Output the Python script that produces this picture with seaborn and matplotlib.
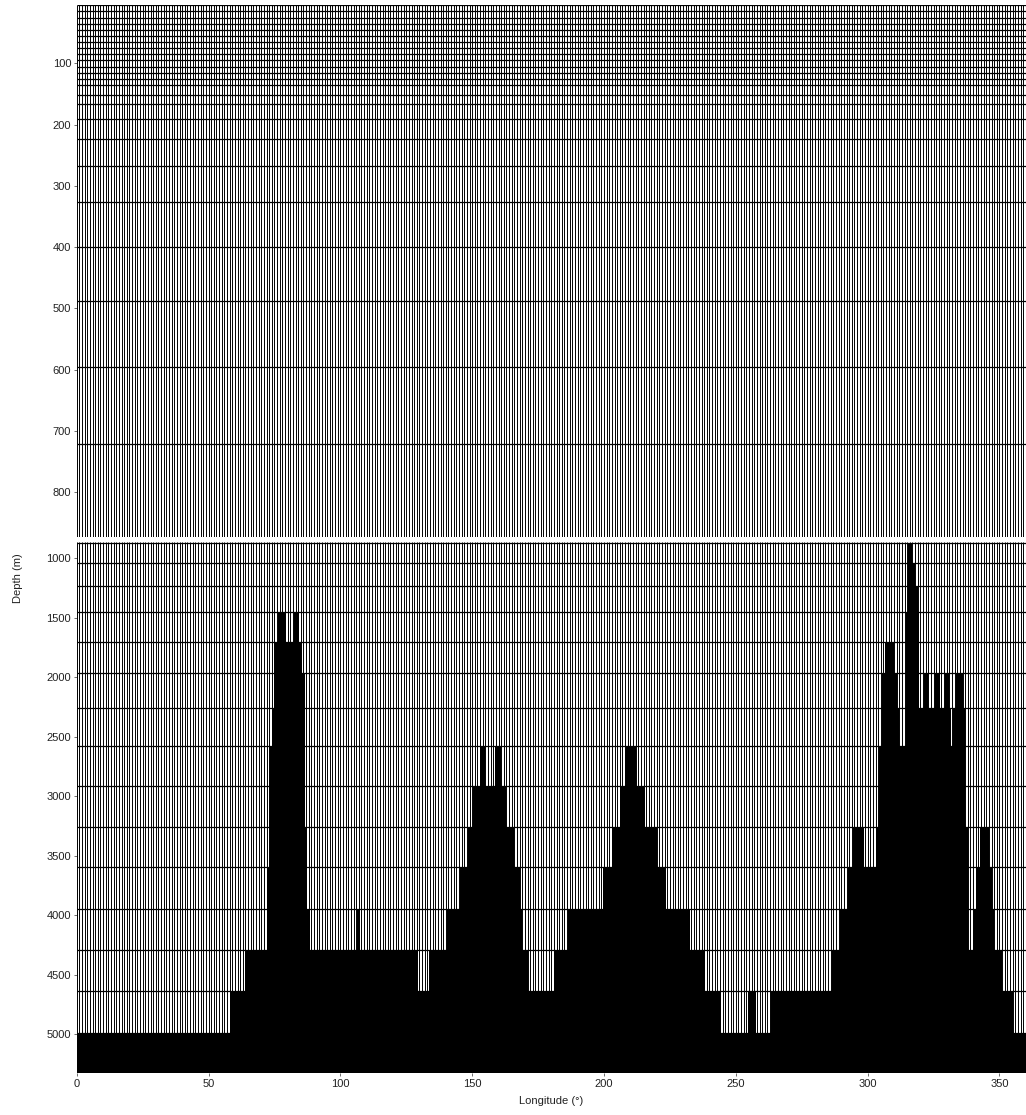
import numpy as np
import matplotlib
matplotlib.use("Agg")
import matplotlib.pyplot as plt
import seaborn as sns

# ---------------- data ----------------
# model level depths (m) drawn as horizontal grid lines
level_depths = [5, 15, 25, 35, 45, 55, 65, 75, 85, 95, 105, 115, 125, 136, 151, 166,
                190, 224, 268, 326, 399, 488, 596, 722, 873, 1042, 1233, 1454, 1701,
                1967, 2261, 2578, 2912, 3262, 3598, 3945, 4295, 4641, 4989, 5330]
# longitude grid lines (deg)
grid_lons = list(range(0, 361))

# bathymetry: step segments (edges in degrees) and bottom depth of each segment
bathy_edges = [0, 58, 64, 72, 73, 74, 75, 76.5, 79.5, 82.5, 84.5, 85.5, 86.5, 87.5, 88.5,
               106.5, 107.5, 129.5, 133.5, 140.5, 145.5, 148.5, 150.5, 153, 155, 158.5,
               161, 163, 166, 168, 169, 171, 181, 186.5, 199.5, 203, 206, 208, 212,
               215.5, 220, 223.5, 232.5, 238.5, 244.5, 254.5, 257.5, 263.5, 286.5,
               289.5, 292.5, 294.5, 298.5, 303, 304.5, 305.5, 306.5, 310, 311, 312,
               314.5, 315.5, 317, 318, 319, 319.5, 321.5, 323, 325.5, 327.5, 329.5,
               331, 331.5, 332.5, 333.5, 336, 337, 338, 340, 341, 342.5, 346, 347,
               348, 351, 355, 360]
bathy_depth = [4989, 4641, 4295, 3598, 2578, 2261, 1701, 1454, 1701, 1454, 1701, 1967,
               3262, 3945, 4295, 3945, 4295, 4641, 4295, 3945, 3598, 3262, 2912, 2578,
               2912, 2578, 2912, 3262, 3598, 3945, 4295, 4641, 4295, 3945, 3598, 3262,
               2912, 2578, 2912, 3262, 3598, 3945, 4295, 4641, 4989, 4641, 4989, 4641,
               4295, 3945, 3598, 3262, 3598, 3262, 2578, 1967, 1701, 1967, 2261, 2578,
               1454, 873, 1042, 1233, 1454, 2261, 1967, 2261, 1967, 2261, 1967, 2261,
               2578, 2261, 1967, 2261, 3262, 4295, 3945, 3598, 3262, 3598, 3945, 4295,
               4641, 4989]
assert len(bathy_edges) == len(bathy_depth) + 1

x_ticks = [0, 50, 100, 150, 200, 250, 300, 350]
top_yticks = [100, 200, 300, 400, 500, 600, 700, 800]
bot_yticks = [1000, 1500, 2000, 2500, 3000, 3500, 4000, 4500, 5000]
split_depth = 873
max_depth = 5330
min_depth = 5

# ---------------- plotting ----------------
sns.set_theme(style="white")
plt.rcParams['font.family'] = ['Liberation Sans', 'DejaVu Sans']

W, H = 1026, 1115
fig = plt.figure(figsize=(W / 100, H / 100), dpi=100)
left = 76.7 / W
width = (1025.8 - 76.7) / W
ax_top = fig.add_axes([left, 1 - 536.7 / H, width, (536.7 - 5.3) / H])
ax_bot = fig.add_axes([left, 1 - 1073.3 / H, width, (1073.3 - 542.3) / H])

starts = np.array(bathy_edges[:-1])
widths = np.diff(bathy_edges)
depths = np.array(bathy_depth)

for ax, (y0, y1) in ((ax_top, (split_depth, min_depth)), (ax_bot, (max_depth, 866))):
    ax.set_xlim(0, 360)
    ax.set_ylim(y0, y1)
    lo, hi = min(y0, y1), max(y0, y1)
    ax.vlines(grid_lons, lo, hi, colors='black', linewidth=0.7, zorder=1)
    hl = [d for d in level_depths if lo - 1 <= d <= hi + 1 and not (ax is ax_top and d >= split_depth)]
    ax.hlines(hl, 0, 360, colors='black', linewidth=0.9, zorder=1)
    ax.bar(starts, max_depth - depths, bottom=depths, width=widths, align='edge',
           color='black', linewidth=0, zorder=2)
    for s in ax.spines.values():
        s.set_visible(False)
    ax.tick_params(axis='both', which='both', length=2, width=0.6, color='#555555',
                   labelsize=8, labelcolor='#222222', pad=2, left=True, bottom=True)

ax_top.set_yticks(top_yticks)
ax_top.set_xticks([])
ax_bot.set_yticks(bot_yticks)
ax_bot.set_xticks(x_ticks)
ax_bot.set_xticklabels([str(v) for v in x_ticks])

fig.text(18 / W, 1 - 578 / H, "Depth (m)", rotation=90, ha='center', va='center',
         fontsize=8, color='#222222')
fig.text(551 / W, 1 - 1101 / H, "Longitude (°)", ha='center', va='center',
         fontsize=8, color='#222222')

fig.savefig("out.png", dpi=100)
